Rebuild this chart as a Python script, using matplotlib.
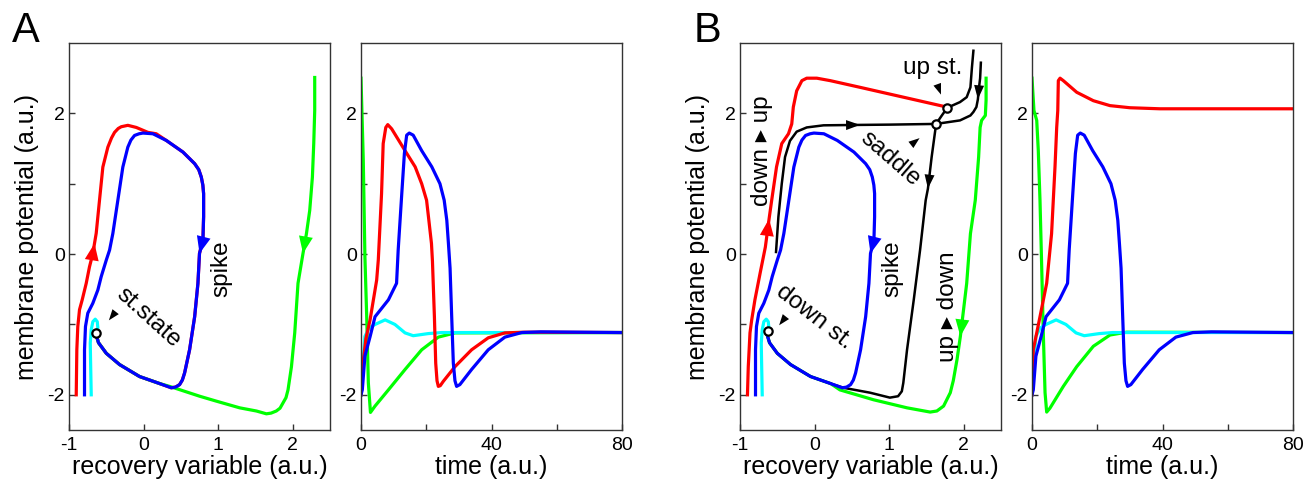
import numpy as np
import matplotlib
matplotlib.use("Agg")
import matplotlib.pyplot as plt

# ------------------------------------------------------------------------------
#   Data (w = recovery variable, v = membrane potential)
# ------------------------------------------------------------------------------

# shared spike trajectory (blue) and small excursion (cyan), same in A and B
blue_w = [-0.792, -0.792, -0.779, -0.748, -0.681, -0.613, -0.568, -0.50, -0.456,
          -0.412, -0.345, -0.278, -0.211, -0.17, -0.121, -0.06, -0.009, 0.125,
          0.305, 0.528, 0.685, 0.74, 0.774, 0.795, 0.805, 0.805, 0.796, 0.75,
          0.729, 0.685, 0.617, 0.55, 0.52, 0.483, 0.43, 0.372, 0.215, -0.054,
          -0.322, -0.50, -0.604, -0.644]
blue_v = [-2.0, -1.36, -1.03, -0.84, -0.70, -0.51, -0.32, -0.085, 0.057,
          0.293, 0.765, 1.237, 1.52, 1.62, 1.686, 1.71, 1.72, 1.71,
          1.615, 1.45, 1.285, 1.20, 1.095, 0.98, 0.86, 0.53, 0.20, 0.01,
          -0.415, -0.89, -1.36, -1.69, -1.79, -1.855, -1.89, -1.90, -1.84, -1.74,
          -1.57, -1.41, -1.26, -1.12]
TAIL = 36      # index where the bottom return path (to the rest state) starts
TOP = 17       # index where the red trajectory joins the spike path

cyan_w = [-0.702, -0.711, -0.715, -0.702, -0.68, -0.648, -0.621, -0.613, -0.638]
cyan_v = [-2.0, -1.50, -1.265, -1.076, -0.96, -0.925, -0.96, -1.05, -1.12]

# panel A
redA_w = [-0.903, -0.895, -0.882, -0.859, -0.823, -0.769, -0.725, -0.68, -0.658,
          -0.635, -0.591, -0.546, -0.479, -0.43, -0.389, -0.34, -0.299, -0.211,
          -0.098, 0.058, 0.17] + blue_w[TOP + 1:]
redA_v = [-2.0, -1.36, -1.03, -0.79, -0.65, -0.415, -0.18, 0.01, 0.152,
          0.297, 0.765, 1.237, 1.52, 1.65, 1.73, 1.785, 1.81, 1.83,
          1.80, 1.73, 1.71] + blue_v[TOP + 1:]

greenA_w = [2.295, 2.295, 2.282, 2.264, 2.228, 2.184, 2.138, 2.071, 2.027,
            1.983, 1.937, 1.91, 1.87, 1.83, 1.78, 1.71, 1.647, 1.513, 1.289,
            0.976, 0.752, 0.349] + blue_w[TAIL:]
greenA_v = [2.51, 2.04, 1.57, 1.095, 0.62, 0.29, 0.01, -0.415, -1.12,
            -1.60, -1.93, -2.04, -2.115, -2.19, -2.23, -2.26, -2.27, -2.23, -2.185,
            -2.09, -2.02, -1.88] + blue_v[TAIL:]

st_state = (-0.644, -1.12)

# panel B
redB_w = [-0.90, -0.889, -0.866, -0.843, -0.80, -0.73, -0.66, -0.61, -0.575,
          -0.51, -0.44, -0.35, -0.306, -0.285, -0.24, -0.17, -0.105, 0.03,
          0.21, 0.61, 1.73, 1.78]
redB_v = [-2.0, -1.60, -1.12, -0.935, -0.65, -0.27, 0.10, 0.50, 0.765,
          1.24, 1.57, 1.71, 1.85, 2.09, 2.32, 2.465, 2.50, 2.50,
          2.465, 2.37, 2.10, 2.08]

greenB_w = [2.30, 2.30, 2.29, 2.24, 2.22, 2.20, 2.155, 2.09, 2.04, 1.955,
            1.91, 1.86, 1.82, 1.73, 1.64, 1.55, 1.24, 0.79, 0.34] + blue_w[TAIL:]
greenB_v = [2.50, 2.19, 1.97, 1.90, 1.80, 1.38, 0.765, 0.29, -0.415, -1.17,
            -1.50, -1.80, -1.97, -2.16, -2.23, -2.245, -2.185, -2.07,
            -1.93] + blue_v[TAIL:]

# separatrices (black)
sep1_w = [-0.517, -0.485, -0.44, -0.396, -0.33, -0.24, -0.105, 0.12, 0.61, 1.01, 1.63]
sep1_v = [0.03, 0.53, 1.0, 1.38, 1.61, 1.74, 1.80, 1.83, 1.836, 1.84, 1.85]
sep2_w = [2.23, 2.22, 2.20, 2.19, 2.17, 2.13, 2.09, 1.95, 1.63]
sep2_v = [2.72, 2.50, 2.32, 2.20, 2.09, 2.02, 1.97, 1.90, 1.85]
sep3_w = [1.63, 1.70, 1.78, 1.95, 2.04, 2.09, 2.11, 2.13]
sep3_v = [1.85, 1.96, 2.08, 2.16, 2.23, 2.37, 2.65, 2.89]
sep4_w = [1.63, 1.57, 1.52, 1.49, 1.415, 1.33, 1.24, 1.19, 1.17, 1.12, 1.01, 0.745,
          0.387] + blue_w[TAIL:]
sep4_v = [1.85, 1.38, 0.93, 0.765, 0.06, -0.65, -1.36, -1.83, -1.95, -2.02, -2.04,
          -1.97, -1.90] + blue_v[TAIL:]

down_st = (-0.63, -1.10)
saddle = (1.63, 1.85)
up_st = (1.78, 2.08)

# time courses
blue_t = [0, 0.4, 1.2, 2.8, 4.3, 8.4, 10.9, 11.4, 12.5, 13.3, 14.0, 14.8, 16.0,
          18.6, 21.7, 24.2, 25.5, 26.3, 26.8, 27.3, 27.8, 28.3, 28.8, 29.3, 30.3,
          33.9, 39.0, 44.1, 49.3, 55, 80]
blue_tv = [-2.0, -1.93, -1.45, -1.17, -0.89, -0.65, -0.415, 0.06, 0.86, 1.43, 1.69,
           1.72, 1.69, 1.47, 1.24, 1.0, 0.765, 0.48, 0.15, -0.2, -0.89, -1.55,
           -1.80, -1.88, -1.855, -1.64, -1.36, -1.18, -1.115, -1.105, -1.115]

cyan_t = [0, 0.6, 1.2, 2.5, 4.3, 7.4, 10.4, 13.5, 16.0, 20.6, 24.7, 80]
cyan_tv = [-2.0, -1.55, -1.17, -1.05, -1.0, -0.935, -1.0, -1.12, -1.16, -1.13,
           -1.115, -1.115]

redA_t = [0, 0.5, 1.5, 2.8, 4.8, 5.3, 6.3, 6.8, 7.6, 8.2, 9.4, 13.5, 16.6, 18.6,
          20.1, 20.8, 21.6, 21.9, 22.5, 22.9, 23.3, 23.7, 24.3, 25.2, 28.8, 33.9,
          39.0, 44.1, 50, 80]
redA_tv = [-2.0, -1.6, -1.2, -0.93, -0.37, -0.085, 0.86, 1.57, 1.80, 1.84, 1.78,
           1.47, 1.24, 1.0, 0.765, 0.48, 0.15, -0.1, -0.89, -1.55, -1.80, -1.88,
           -1.87, -1.81, -1.60, -1.36, -1.19, -1.12, -1.11, -1.115]

greenA_t = [0, 0.7, 1.2, 1.75, 2.25, 2.9, 4.3, 8.4, 13.5, 18.6, 23.7, 28.8, 80]
greenA_tv = [2.50, 1.33, -0.04, -0.89, -1.83, -2.25, -2.16, -1.93, -1.64, -1.36,
             -1.18, -1.12, -1.115]

redB_t = [0, 0.4, 2.45, 4.5, 6.0, 7.05, 7.57, 7.9, 8.07, 8.6, 9.6, 13.7, 18.8,
          23.9, 30, 39.2, 80]
redB_tv = [-2.0, -1.36, -0.89, -0.415, 0.29, 1.24, 1.80, 2.04, 2.465, 2.50, 2.465,
           2.30, 2.18, 2.11, 2.08, 2.065, 2.065]

greenB_t = [0, 0.6, 1.45, 1.93, 2.45, 2.97, 3.46, 4.0, 4.5, 5.5, 9.6, 13.7, 18.8,
            23.9, 29, 80]
greenB_tv = [2.50, 2.04, 1.90, 1.47, 0.765, -0.18, -1.12, -1.97, -2.245, -2.19,
             -1.88, -1.60, -1.31, -1.15, -1.11, -1.115]

# Colors
RED = "#ff0000"
GREEN = "#00ff00"
BLUE = "#0000ff"
CYAN = "#00ffff"
AXC = "#333333"

LW = 2.3
LW_SEP = 1.8

plt.rcParams['font.family'] = ['Liberation Sans', 'DejaVu Sans']
plt.rcParams['axes.unicode_minus'] = False

# ------------------------------------------------------------------------------
#   Helpers
# ------------------------------------------------------------------------------

def style_axes(ax, time_axis):
    for s in ax.spines.values():
        s.set_linewidth(1.0)
        s.set_color(AXC)
    ax.set_ylim(-2.5, 3)
    ax.set_yticks([-2, 0, 2])
    ax.set_yticks([-1, 1], minor=True)
    ax.set_yticklabels(["-2", "0", "2"])
    if time_axis:
        ax.set_xlim(0, 80)
        ax.set_xticks([0, 40, 80])
        ax.set_xticks([20, 60], minor=True)
        ax.set_xlabel("time (a.u.)", fontsize=18, labelpad=1)
    else:
        ax.set_xlim(-1, 2.5)
        ax.set_xticks([-1, 0, 1, 2])
        ax.set_xticklabels(["-1", "0", "1", "2"])
        ax.set_xlabel("recovery variable (a.u.)", fontsize=18, labelpad=1)
        ax.set_ylabel("membrane potential (a.u.)", fontsize=18, labelpad=6)
    ax.tick_params(which='both', direction='in', length=4, width=1.0,
                   color=AXC, labelsize=14)
    ax.tick_params(axis='y', pad=3)
    ax.tick_params(axis='x', pad=5)


def flow_arrow(ax, w, v, i, color, width=14, length=17):
    """Filled triangle with its tip on point i, pointing along the curve."""
    tr = ax.transData
    p0 = tr.transform((w[i - 1], v[i - 1]))
    p1 = tr.transform((w[i], v[i]))
    d = (p1 - p0) / np.hypot(*(p1 - p0))
    n = np.array([-d[1], d[0]])
    base = p1 - d * length
    pts = np.array([p1, base + n * width / 2, base - n * width / 2])
    pts = tr.inverted().transform(pts)
    ax.fill(pts[:, 0], pts[:, 1], color=color, lw=0, zorder=6)


def pointer(ax, x, y, angle, length=11, width=8):
    """Small black triangle centred on (x, y), pointing at angle (deg)."""
    tr = ax.transData
    c = tr.transform((x, y))
    d = np.array([np.cos(np.radians(angle)), np.sin(np.radians(angle))])
    n = np.array([-d[1], d[0]])
    tip = c + d * length / 2
    base = c - d * length / 2
    pts = np.array([tip, base + n * width / 2, base - n * width / 2])
    pts = tr.inverted().transform(pts)
    ax.fill(pts[:, 0], pts[:, 1], color='k', lw=0, zorder=6)


def fixed_point(ax, p):
    ax.plot(p[0], p[1], 'o', ms=6, mfc='white', mec='k', mew=1.6, zorder=7)

# ------------------------------------------------------------------------------
#   Figure
# ------------------------------------------------------------------------------

fig = plt.figure(figsize=(13.11, 4.82), dpi=100)

bottom, height, width = 52 / 482, 387 / 482, 261 / 1311
axA = fig.add_axes([69 / 1311, bottom, width, height])
axAt = fig.add_axes([361 / 1311, bottom, width, height])
axB = fig.add_axes([740 / 1311, bottom, width, height])
axBt = fig.add_axes([1032 / 1311, bottom, width, height])

style_axes(axA, False)
style_axes(axAt, True)
style_axes(axB, False)
style_axes(axBt, True)

# -------------------------------------------------------------
#   A: phase plane
# -------------------------------------------------------------

axA.plot(redA_w, redA_v, color=RED, lw=LW)
axA.plot(greenA_w, greenA_v, color=GREEN, lw=LW)
axA.plot(cyan_w, cyan_v, color=CYAN, lw=LW)
axA.plot(blue_w, blue_v, color=BLUE, lw=LW)
fixed_point(axA, st_state)

flow_arrow(axA, redA_w, redA_v, 8, RED)
flow_arrow(axA, blue_w, blue_v, 27, BLUE)
flow_arrow(axA, greenA_w, greenA_v, 6, GREEN)

axA.text(0.06, -0.91, "st.state", fontsize=17.5, rotation=-42,
         ha='center', va='center', rotation_mode='anchor')
pointer(axA, -0.42, -0.88, -128)
axA.text(1.05, -0.21, "spike", fontsize=17.5, rotation=90,
         ha='center', va='center')

# -------------------------------------------------------------
#   A: time course
# -------------------------------------------------------------

axAt.plot(greenA_t, greenA_tv, color=GREEN, lw=LW)
axAt.plot(cyan_t, cyan_tv, color=CYAN, lw=LW)
axAt.plot(redA_t, redA_tv, color=RED, lw=LW)
axAt.plot(blue_t, blue_tv, color=BLUE, lw=LW)

# -------------------------------------------------------------
#   B: phase plane
# -------------------------------------------------------------

axB.plot(redB_w, redB_v, color=RED, lw=LW)
axB.plot(greenB_w, greenB_v, color=GREEN, lw=LW)
for sw, sv in [(sep4_w, sep4_v), (sep1_w, sep1_v),
               (sep2_w, sep2_v), (sep3_w, sep3_v)]:
    axB.plot(sw, sv, color='k', lw=LW_SEP)
axB.plot(cyan_w, cyan_v, color=CYAN, lw=LW)
axB.plot(blue_w, blue_v, color=BLUE, lw=LW)
for p in [down_st, saddle, up_st]:
    fixed_point(axB, p)

flow_arrow(axB, redB_w, redB_v, 7, RED)
flow_arrow(axB, blue_w, blue_v, 27, BLUE)
flow_arrow(axB, greenB_w, greenB_v, 9, GREEN)
flow_arrow(axB, sep1_w, sep1_v, 8, 'k', width=10, length=14)
flow_arrow(axB, sep2_w, sep2_v, 3, 'k', width=10, length=14)
flow_arrow(axB, sep4_w, sep4_v, 2, 'k', width=10, length=14)

axB.text(-0.70, 1.47, "down \u25B8 up", fontsize=17.5, rotation=90,
         ha='center', va='center')
axB.text(1.79, -0.75, "up \u25B8 down", fontsize=17.5, rotation=90,
         ha='center', va='center')
axB.text(1.05, -0.21, "spike", fontsize=17.5, rotation=90,
         ha='center', va='center')
axB.text(0.0, -0.89, "down st.", fontsize=17.5, rotation=-38,
         ha='center', va='center', rotation_mode='anchor')
pointer(axB, -0.43, -0.95, -128)
axB.text(1.01, 1.35, "saddle", fontsize=17.5, rotation=-41,
         ha='center', va='center', rotation_mode='anchor')
pointer(axB, 1.35, 1.60, 38)
axB.text(1.58, 2.65, "up st.", fontsize=17.5, ha='center', va='center')
pointer(axB, 1.67, 2.34, -70)

# -------------------------------------------------------------
#   B: time course
# -------------------------------------------------------------

axBt.plot(greenB_t, greenB_tv, color=GREEN, lw=LW)
axBt.plot(cyan_t, cyan_tv, color=CYAN, lw=LW)
axBt.plot(redB_t, redB_tv, color=RED, lw=LW)
axBt.plot(blue_t, blue_tv, color=BLUE, lw=LW)

# Panel letters
fig.text(12 / 1311, 1 - 42 / 482, "A", fontsize=30, ha='left', va='baseline')
fig.text(694 / 1311, 1 - 42 / 482, "B", fontsize=30, ha='left', va='baseline')

fig.savefig("out.png", dpi=100)
